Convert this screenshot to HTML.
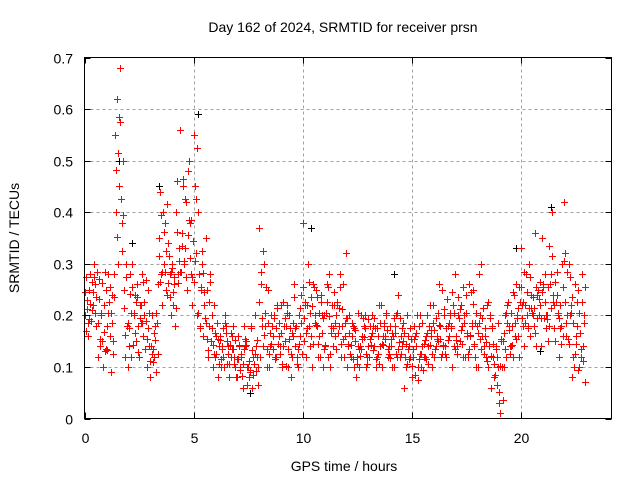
<!DOCTYPE html>
<html><head><meta charset="utf-8"><style>
html,body{margin:0;padding:0;background:#fff}
svg{display:block;font-family:"Liberation Sans",sans-serif}
</style></head><body>
<svg id="chart" width="640" height="480" viewBox="0 0 640 480">
<rect x="0" y="0" width="640" height="480" fill="#fff"/>
<g id="grid"></g>
<g id="black"></g>
<g id="red"></g>
<rect x="84.5" y="57.5" width="527" height="361" fill="none" stroke="#000"/>
<g id="ticks" font-size="14"></g>
<text x="343" y="32" font-size="14" text-anchor="middle">Day 162 of 2024, SRMTID for receiver prsn</text>
<text x="344" y="471" font-size="14" text-anchor="middle">GPS time / hours</text>
<text transform="translate(19,238) rotate(-90)" font-size="14" text-anchor="middle">SRMTID / TECUs</text>
</svg>
<script>
const xTicks=[0,5,10,15,20];
const yTicks=[0,0.1,0.2,0.3,0.4,0.5,0.6,0.7];
const yTickLabels=["0","0.1","0.2","0.3","0.4","0.5","0.6","0.7"];
const hours=[0,0.2,0.4,0.6,0.8,1,1.2,1.4,1.6,1.8,2,2.2,2.4,2.6,2.8,3,3.2,3.4,3.6,3.8,4,4.2,4.4,4.6,4.8,5,5.2,5.4,5.6,5.8,6,6.2,6.4,6.6,6.8,7,7.2,7.4,7.6,7.8,8,8.2,8.4,8.6,8.8,9,9.2,9.4,9.6,9.8,10,10.2,10.4,10.6,10.8,11,11.2,11.4,11.6,11.8,12,12.2,12.4,12.6,12.8,13,13.2,13.4,13.6,13.8,14,14.2,14.4,14.6,14.8,15,15.2,15.4,15.6,15.8,16,16.2,16.4,16.6,16.8,17,17.2,17.4,17.6,17.8,18,18.2,18.4,18.6,18.8,19,19.2,19.4,19.6,19.8,20,20.2,20.4,20.6,20.8,21,21.2,21.4,21.6,21.8,22,22.2,22.4,22.6,22.8];
const srmtidA=[.20,.25,.22,.12,.15,.25,.09,.55,.45,.25,.10,.30,.26,.22,.19,.08,.12,.35,.40,.24,.30,.40,.56,.33,.50,.55,.40,.30,.25,.15,.12,.16,.10,.14,.18,.08,.12,.15,.09,.20,.37,.14,.25,.18,.12,.22,.15,.20,.26,.10,.38,.22,.16,.25,.12,.20,.28,.14,.22,.18,.32,.12,.15,.10,.18,.14,.20,.12,.22,.16,.18,.10,.24,.15,.20,.08,.14,.20,.12,.18,.22,.15,.25,.12,.18,.28,.15,.20,.12,.25,.18,.30,.12,.20,.08,.03,.15,.22,.18,.26,.33,.22,.30,.18,.25,.35,.20,.28,.15,.22,.42,.30,.12,.18,.28];
const srmtidB=[.17,.28,.30,.27,.10,.18,.24,.40,.68,.12,.14,.20,.18,.28,.10,.14,.18,.44,.30,.34,.22,.46,.36,.42,.38,.45,.28,.16,.12,.20,.16,.10,.20,.08,.12,.16,.06,.10,.18,.14,.12,.30,.10,.16,.22,.10,.18,.08,.14,.20,.15,.30,.10,.18,.24,.14,.10,.22,.18,.26,.10,.16,.08,.14,.20,.12,.18,.16,.10,.20,.14,.18,.12,.06,.16,.12,.20,.10,.16,.22,.12,.26,.14,.18,.10,.16,.22,.12,.26,.14,.10,.16,.22,.06,.14,.01,.10,.18,.12,.20,.22,.28,.16,.36,.20,.26,.15,.40,.24,.18,.32,.20,.10,.25,.14];
const srmtidC=[.23,.19,.26,.14,.22,.28,.15,.62,.38,.30,.28,.24,.12,.16,.25,.20,.09,.28,.38,.28,.26,.28,.45,.25,.28,.32,.18,.22,.18,.10,.08,.14,.18,.12,.10,.14,.18,.10,.06,.12,.26,.18,.14,.20,.16,.14,.22,.12,.18,.16,.22,.18,.26,.12,.20,.26,.18,.16,.28,.12,.14,.18,.12,.20,.10,.18,.14,.22,.16,.12,.10,.20,.16,.12,.14,.18,.10,.14,.20,.16,.14,.18,.20,.16,.22,.14,.18,.24,.16,.12,.28,.14,.10,.18,.12,.15,.20,.14,.24,.16,.18,.20,.24,.14,.22,.28,.18,.24,.20,.30,.16,.22,.26,.10,.20];
const srmtidD=[.16,.21,.18,.20,.13,.16,.28,.30,.50,.18,.12,.15,.22,.20,.14,.11,.26,.22,.25,.20,.18,.33,.30,.48,.22,.20,.25,.35,.28,.22,.14,.12,.15,.16,.08,.10,.14,.08,.12,.10,.18,.10,.20,.12,.14,.18,.10,.16,.12,.24,.12,.14,.20,.16,.10,.12,.22,.20,.12,.16,.20,.10,.14,.16,.12,.16,.10,.14,.18,.14,.16,.12,.14,.10,.12,.16,.18,.12,.14,.10,.16,.12,.14,.20,.14,.20,.12,.16,.18,.10,.20,.16,.14,.12,.10,.10,.12,.14,.16,.12,.14,.18,.20,.24,.14,.20,.26,.22,.12,.16,.20,.08,.16,.12,.07];
const srmtidE=[.245,.192,.275,.185,.262,.132,.205,.482,.575,.215,.176,.142,.235,.185,.268,.112,.152,.315,.362,.262,.292,.362,.285,.425,.312,.265,.205,.282,.155,.175,.125,.152,.185,.105,.135,.115,.082,.142,.176,.125,.225,.162,.185,.135,.215,.165,.102,.175,.235,.145,.255,.175,.218,.182,.226,.142,.198,.245,.165,.212,.195,.142,.172,.122,.158,.192,.132,.175,.145,.205,.118,.165,.148,.185,.135,.102,.165,.125,.152,.142,.172,.205,.142,.232,.175,.152,.212,.185,.135,.222,.165,.195,.148,.122,.085,.052,.165,.225,.142,.195,.255,.185,.275,.215,.232,.255,.192,.315,.225,.175,.225,.145,.185,.095,.225];
const srmtidF=[.275,.222,.205,.232,.168,.205,.185,.352,.425,.162,.242,.205,.128,.265,.155,.125,.205,.265,.285,.315,.245,.262,.335,.275,.385,.305,.175,.245,.132,.142,.185,.115,.165,.142,.105,.142,.105,.065,.132,.092,.285,.205,.125,.195,.145,.105,.205,.125,.175,.215,.195,.265,.145,.235,.165,.205,.125,.185,.215,.155,.145,.185,.105,.135,.175,.155,.195,.125,.142,.172,.155,.125,.195,.165,.115,.135,.075,.185,.115,.172,.135,.182,.212,.152,.245,.125,.172,.205,.162,.145,.185,.215,.112,.175,.135,.102,.135,.172,.245,.215,.195,.245,.215,.165,.265,.195,.255,.225,.285,.145,.185,.275,.125,.205,.112];
const srmtidG=[.212,.265,.235,.155,.285,.225,.125,.515,.325,.275,.205,.165,.195,.225,.175,.135,.185,.395,.325,.235,.275,.305,.465,.355,.275,.425,.255,.195,.225,.125,.155,.135,.105,.165,.152,.095,.135,.112,.085,.152,.195,.255,.165,.115,.185,.225,.135,.165,.105,.185,.225,.205,.255,.145,.195,.225,.165,.135,.255,.185,.165,.115,.205,.155,.125,.142,.175,.105,.185,.135,.165,.205,.125,.145,.175,.155,.115,.095,.165,.125,.195,.155,.125,.185,.205,.235,.145,.165,.245,.185,.155,.125,.225,.145,.065,.155,.205,.125,.185,.255,.225,.175,.205,.255,.195,.225,.335,.175,.205,.255,.285,.205,.145,.165,.185];
const srmtidH=[.185,.245,.285,.205,.135,.255,.235,.585,.395,.185,.255,.225,.185,.135,.205,.165,.125,.285,.415,.285,.215,.285,.305,.385,.345,.525,.325,.185,.265,.165,.105,.175,.125,.135,.115,.125,.155,.095,.105,.065,.325,.135,.145,.175,.125,.195,.155,.185,.135,.125,.165,.235,.185,.205,.135,.255,.175,.225,.145,.195,.125,.175,.135,.195,.105,.165,.115,.185,.155,.125,.195,.135,.175,.105,.155,.085,.125,.145,.105,.185,.155,.125,.175,.205,.135,.195,.255,.125,.185,.205,.135,.175,.195,.105,.185,.035,.185,.205,.155,.225,.285,.215,.235,.195,.245,.175,.215,.265,.195,.305,.155,.235,.225,.135,.255];
const blackHours=[1.6,2.2,3.4,5.2,10.4,14.2,19.8,21.4,20.9,7.6];
const blackVals=[.50,.34,.45,.59,.37,.28,.33,.41,.13,.05];
const X0=84.5,X1=611.5,Y0=418.5,Y1=57.5,XMAX=24.17,YMAX=0.7;
const sx=h=>X0+(X1-X0)*h/XMAX, sy=v=>Y0-(Y0-Y1)*v/YMAX;
const NS="http://www.w3.org/2000/svg";
function mk(tag,attrs,parent){const e=document.createElementNS(NS,tag);for(const k in attrs)e.setAttribute(k,attrs[k]);parent.appendChild(e);return e;}
const grid=document.getElementById('grid'),ticks=document.getElementById('ticks');
xTicks.forEach(t=>{const x=Math.round(sx(t))+0.5;
 if(t>0){const g=mk('line',{x1:x,x2:x,y1:Y1,y2:Y0,stroke:'#a0a0a0','stroke-dasharray':'3,3'},grid);}
 mk('line',{x1:x,x2:x,y1:Y0,y2:Y0-6,stroke:'#000'},ticks);mk('line',{x1:x,x2:x,y1:Y1,y2:Y1+6,stroke:'#000'},ticks);
 const tx=mk('text',{x:x,y:443,'text-anchor':'middle'},ticks);tx.textContent=t;
 });
yTicks.forEach((t,i)=>{const y=Math.round(sy(t))+0.5;
 if(t>0&&t<YMAX){const g=mk('line',{x1:X0,x2:X1,y1:y,y2:y,stroke:'#a0a0a0','stroke-dasharray':'3,3'},grid);}
 mk('line',{x1:X0,x2:X0+6,y1:y,y2:y,stroke:'#000'},ticks);mk('line',{x1:X1,x2:X1-6,y1:y,y2:y,stroke:'#000'},ticks);
 const tx=mk('text',{x:73,y:y+5,'text-anchor':'end'},ticks);tx.textContent=yTickLabels[i];
 });
function plus(g,h,v,col){const x=Math.round(sx(h))+0.5,y=Math.round(sy(v))+0.5;
 const p=mk('path',{d:`M${x-3.5} ${y}h7M${x} ${y-3.5}v7`,stroke:col,'stroke-width':1,fill:'none'},g);
 
 }
const bg=document.getElementById('black'),rg=document.getElementById('red');
blackHours.forEach((h,i)=>plus(bg,h,blackVals[i],'#000'));
const series=[srmtidA,srmtidB,srmtidC,srmtidD,srmtidE,srmtidF,srmtidG,srmtidH];
const jit=[0,0.05,0.1,0.15,0.025,0.075,0.125,0.175];
series.forEach((arr,k)=>hours.forEach((h,i)=>plus(rg,h+jit[k],arr[i],'#f00')));
</script>
</body></html>
